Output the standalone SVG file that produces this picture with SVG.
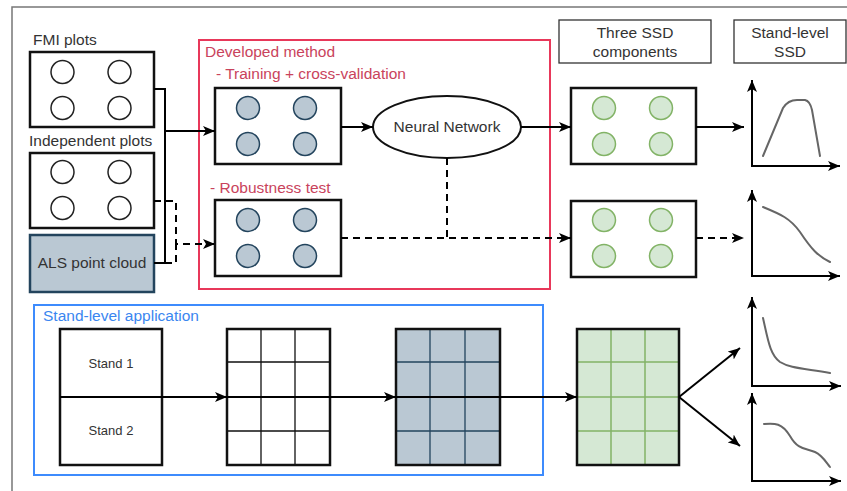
<svg xmlns="http://www.w3.org/2000/svg" width="847" height="491" viewBox="0 0 847 491">
<style>
text{font-family:"Liberation Sans",Arial,sans-serif;font-size:15.5px;fill:#333}
.box{fill:#fff;stroke:#111;stroke-width:2.5}
.wc{fill:#fff;stroke:#222;stroke-width:1.5}
.bc{fill:#bac8d3;stroke:#23445d;stroke-width:1.5}
.gc{fill:#d5e8d4;stroke:#82b366;stroke-width:1.5}
.con{fill:none;stroke:#000;stroke-width:2}
.dash{stroke-dasharray:7 5}
.red{fill:#c9435c}
.curve{fill:none;stroke:#666;stroke-width:2;stroke-linecap:round}
.lab{fill:#fff;stroke:#333;stroke-width:1.3}
</style>
<defs>
<marker id="a" viewBox="0 0 12 10" refX="12" refY="5" markerWidth="12" markerHeight="10" markerUnits="userSpaceOnUse" orient="auto-start-reverse">
<path d="M0,0 L12,5 L0,10 L3,5 Z" fill="#000"/>
</marker>
<g id="wcircles"><circle cx="0" cy="0" r="11.5"/><circle cx="57" cy="0" r="11.5"/><circle cx="0" cy="36" r="11.5"/><circle cx="57" cy="36" r="11.5"/></g>
</defs>
<rect x="0" y="0" width="847" height="491" fill="#fff"/>
<rect x="12" y="7" width="860" height="500" fill="none" stroke="#777" stroke-width="1.5"/>

<g id="fmi">
<text x="33" y="45">FMI plots</text>
<rect class="box" x="30" y="52" width="124" height="75"/>
<use href="#wcircles" x="62.5" y="72" class="wc"/>
</g>
<g id="indep">
<text x="29" y="146">Independent plots</text>
<rect class="box" x="30" y="153" width="124" height="75"/>
<use href="#wcircles" x="62.5" y="172" class="wc"/>
</g>
<g id="als">
<rect x="30" y="235" width="124" height="57" fill="#bac8d3" stroke="#23445d" stroke-width="2.5"/>
<text x="92" y="268" text-anchor="middle">ALS point cloud</text>
</g>

<g id="method">
<rect x="199" y="40" width="351" height="249" fill="none" stroke="#e8385a" stroke-width="2"/>
<text class="red" x="205" y="57">Developed method</text>
<text class="red" x="216" y="79">- Training + cross-validation</text>
<text class="red" x="210" y="193">- Robustness test</text>
</g>
<g id="training">
<rect class="box" x="215" y="88" width="126" height="76"/>
<use href="#wcircles" x="248" y="108" class="bc"/>
</g>
<g id="robust">
<rect class="box" x="215" y="200" width="126" height="76"/>
<use href="#wcircles" x="248" y="220" class="bc"/>
</g>
<g id="nn">
<ellipse cx="447" cy="127" rx="74" ry="31" fill="#fff" stroke="#111" stroke-width="2"/>
<text x="447" y="132" text-anchor="middle">Neural Network</text>
</g>

<g id="ssdlabel">
<rect class="lab" x="559" y="20" width="152" height="43"/>
<text x="635" y="38" text-anchor="middle">Three SSD</text>
<text x="635" y="57" text-anchor="middle">components</text>
</g>
<g id="standlabel">
<rect class="lab" x="734" y="20" width="112" height="43"/>
<text x="790" y="38" text-anchor="middle">Stand-level</text>
<text x="790" y="57" text-anchor="middle">SSD</text>
</g>
<g id="green1">
<rect class="box" x="571" y="88" width="125" height="76"/>
<use href="#wcircles" x="604" y="108" class="gc"/>
</g>
<g id="green2">
<rect class="box" x="571" y="201" width="125" height="76"/>
<use href="#wcircles" x="604" y="220" class="gc"/>
</g>

<g id="chart1">
<path class="con" d="M752,80 V166 H840" marker-start="url(#a)" marker-end="url(#a)"/>
<path class="curve" d="M763,156 L783,108 Q788,100 797,100 L805,100 Q810,101 812,110 L820,156"/>
</g>
<g id="chart2">
<path class="con" d="M752,190 V276 H840" marker-start="url(#a)" marker-end="url(#a)"/>
<path class="curve" d="M763,207 C780,214 790,218 800,232 C812,250 818,256 830,262"/>
</g>
<g id="chart3">
<path class="con" d="M752,297 V386 H841" marker-start="url(#a)" marker-end="url(#a)"/>
<path class="curve" d="M763,318 C768,340 770,355 780,362 C790,368 800,368 830,373"/>
</g>
<g id="chart4">
<path class="con" d="M752,393 V481 H841" marker-start="url(#a)" marker-end="url(#a)"/>
<path class="curve" d="M764,424 C775,423 782,423 790,436 C798,450 805,448 815,452 C822,455 826,462 830,467"/>
</g>

<g id="app">
<rect x="34" y="305" width="509" height="170" fill="none" stroke="#3d8bfd" stroke-width="2"/>
<text x="43" y="321" style="fill:#3a86f0">Stand-level application</text>
</g>
<g id="stands">
<rect class="box" x="60" y="329" width="102" height="136"/>
<line x1="60" y1="397" x2="162" y2="397" stroke="#111" stroke-width="1.5"/>
<text x="111" y="368" text-anchor="middle" style="font-size:13px">Stand 1</text>
<text x="111" y="435" text-anchor="middle" style="font-size:13px">Stand 2</text>
</g>
<g id="grid1">
<rect x="227" y="329" width="103" height="136" fill="#fff"/>
<path d="M261,329 V465 M295,329 V465 M227,362 H330 M227,397 H330 M227,431 H330" stroke="#111" stroke-width="1.3"/>
<rect x="227" y="329" width="103" height="136" fill="none" stroke="#111" stroke-width="2.5"/>
</g>
<g id="grid2">
<rect x="396" y="329" width="104" height="136" fill="#bac8d3"/>
<path d="M430,329 V465 M465,329 V465 M396,362 H500 M396,397 H500 M396,431 H500" stroke="#23445d" stroke-width="1.3"/>
<rect x="396" y="329" width="104" height="136" fill="none" stroke="#111" stroke-width="2.5"/>
</g>
<g id="grid3">
<rect x="577" y="329" width="102" height="136" fill="#d5e8d4"/>
<path d="M611,329 V465 M645,329 V465 M577,362 H679 M577,397 H679 M577,431 H679" stroke="#82b366" stroke-width="1.5"/>
<rect x="577" y="329" width="102" height="136" fill="none" stroke="#111" stroke-width="2.5"/>
</g>

<g id="connectors">
<path class="con" d="M154,89 H165 V131 H215" marker-end="url(#a)"/>
<path class="con" d="M154,263 H165 V131"/>
<path class="con dash" d="M154,201 H176 V244 H215" marker-end="url(#a)"/>
<path class="con dash" d="M165,263 H176 V244"/>
<path class="con" d="M341,127 H373" marker-end="url(#a)"/>
<path class="con" d="M521,127 H571" marker-end="url(#a)"/>
<path class="con dash" d="M341,238 H571" marker-end="url(#a)"/>
<path class="con dash" d="M447,158 V238"/>
<path class="con" d="M696,127 H744" marker-end="url(#a)"/>
<path class="con dash" d="M696,238 H744" marker-end="url(#a)"/>
<path class="con" d="M60,397 H227" marker-end="url(#a)"/>
<path class="con" d="M227,397 H396" marker-end="url(#a)"/>
<path class="con" d="M396,397 H577" marker-end="url(#a)"/>
<path class="con" d="M679,397 L740,348" marker-end="url(#a)"/>
<path class="con" d="M679,397 L740,446" marker-end="url(#a)"/>
</g>
</svg>
